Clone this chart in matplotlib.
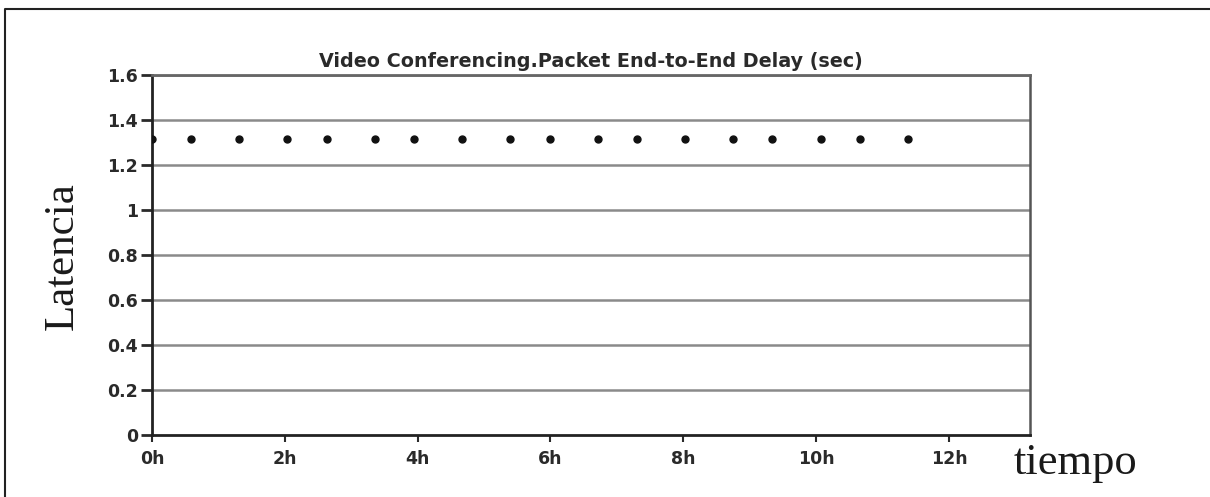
import matplotlib.pyplot as plt
from matplotlib.lines import Line2D

# datos (horas, segundos)
hours = [0.0, 0.58, 1.31, 2.03, 2.63, 3.36, 3.95, 4.67, 5.39, 5.99,
         6.71, 7.30, 8.02, 8.75, 9.34, 10.07, 10.66, 11.38]
delay = [1.315] * len(hours)

x_ticks = [0, 2, 4, 6, 8, 10, 12]
x_labels = ["0h", "2h", "4h", "6h", "8h", "10h", "12h"]
y_ticks = [0, 0.2, 0.4, 0.6, 0.8, 1.0, 1.2, 1.4, 1.6]
y_labels = ["0", "0.2", "0.4", "0.6", "0.8", "1", "1.2", "1.4", "1.6"]

W, H = 1210, 497
fig = plt.figure(figsize=(W / 100, H / 100), dpi=100)
ax = fig.add_axes([152 / W, 1 - 435 / H, (1030 - 152) / W, (435 - 75) / H])

ax.plot(hours, delay, linestyle="none", marker="o", markersize=5,
        color="#111111", zorder=3)

ax.set_xlim(0, 13.22)
ax.set_ylim(0, 1.6)
ax.set_xticks(x_ticks)
ax.set_xticklabels(x_labels, fontweight="bold")
ax.set_yticks(y_ticks)
ax.set_yticklabels(y_labels, fontweight="bold")

for y in y_ticks[1:]:
    ax.axhline(y, color="#8a8a8a", linewidth=1.8, zorder=1)

for side in ["left", "bottom"]:
    ax.spines[side].set_color("#222222")
    ax.spines[side].set_linewidth(2)
ax.spines["right"].set_color("#555555")
ax.spines["right"].set_linewidth(1.8)
ax.spines["top"].set_color("#666666")
ax.spines["top"].set_linewidth(2)

ax.tick_params(axis="y", direction="out", length=8, width=2, colors="#2a2a2a",
               labelsize=12.5, pad=2)
ax.tick_params(axis="x", direction="out", length=5, width=1.5, colors="#2a2a2a",
               labelsize=12.5, pad=6)

ax.set_title("Video Conferencing.Packet End-to-End Delay (sec)",
             fontsize=13.8, fontweight="bold", color="#2a2a2a", pad=6)

fig.text(63 / W, 1 - 256 / H, "Latencia", rotation=90, ha="center", va="center",
         family="Liberation Serif", fontsize=31, color="#1a1a1a")
fig.text(1076 / W, 1 - 463 / H, "tiempo", ha="center", va="center",
         family="Liberation Serif", fontsize=32, color="#1a1a1a")

# marco exterior
fig.add_artist(Line2D([5 / W, 5 / W, 1], [0, 1 - 9 / H, 1 - 9 / H],
                      color="#222222", linewidth=1.5))

fig.savefig("out.png", dpi=100)
